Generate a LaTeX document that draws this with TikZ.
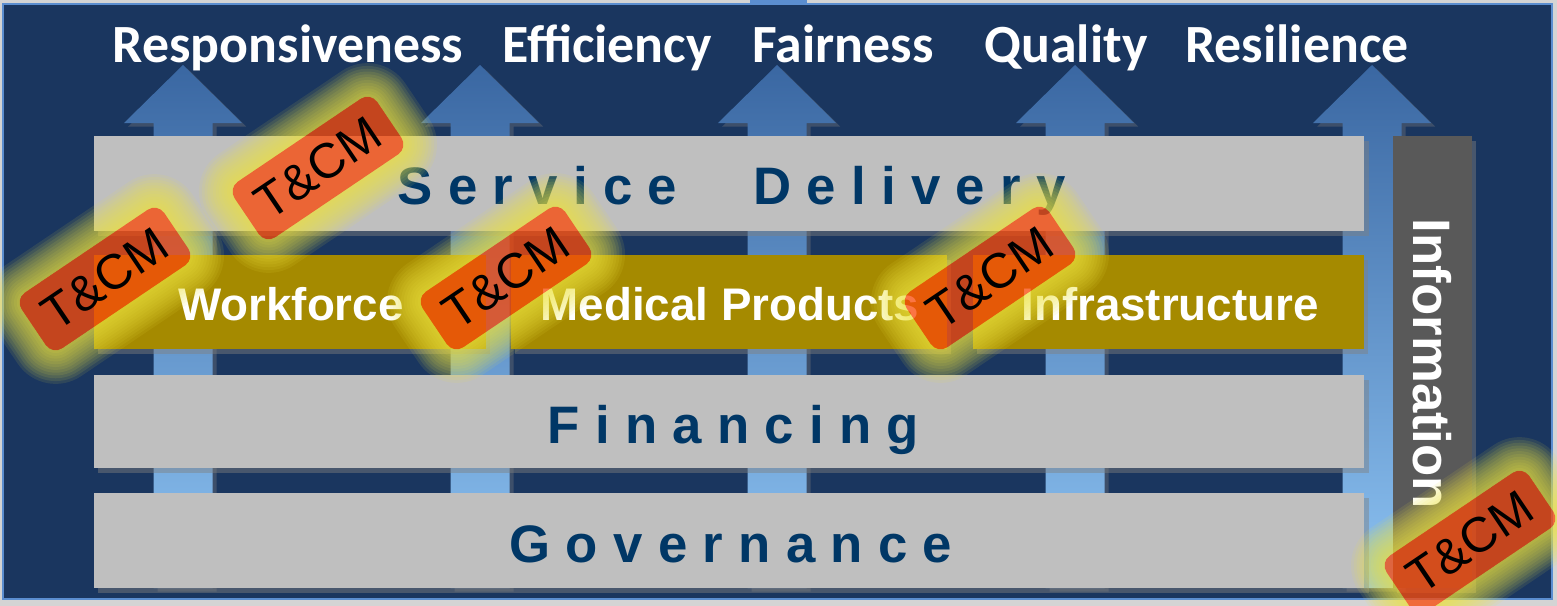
\documentclass[tikz,border=0pt]{standalone}
\usepackage{fontspec}
\setmainfont{Liberation Sans}
\newfontfamily\titlefont{Carlito}
\newfontfamily\spacedfont[LetterSpace=29]{Liberation Sans}
\usetikzlibrary{shadows}
\definecolor{bgblue}{HTML}{1A365F}
\definecolor{frameblue}{HTML}{5B8ED0}
\definecolor{pagegray}{HTML}{D4D4D4}
\definecolor{barg}{HTML}{BFBFBF}
\definecolor{wfolive}{HTML}{A58A00}
\definecolor{textblue}{HTML}{003766}
\definecolor{infog}{HTML}{595959}
\definecolor{arrtop}{HTML}{3A67A2}
\definecolor{arrbot}{HTML}{8CC2F2}
\definecolor{tagor}{HTML}{FA4A0A}
\definecolor{glowy}{HTML}{F0E640}
\tikzset{
  bar/.style={fill=barg, inner sep=0, outer sep=0,
    drop shadow={shadow xshift=1.2pt, shadow yshift=-1.5pt, opacity=0.45}},
  olivebar/.style={bar, fill=wfolive},
  infobar/.style={bar, fill=infog},
  bartext/.style={text=textblue, font=\spacedfont\bfseries\fontsize{15}{18}\selectfont,
    inner sep=0, anchor=base west},
  midtext/.style={text=white, font=\bfseries\fontsize{13}{15}\selectfont,
    inner sep=0, anchor=base},
  titletext/.style={text=white, font=\titlefont\bfseries\fontsize{15.3}{18}\selectfont,
    inner sep=0, anchor=base},
  arrowshape/.style={top color=arrtop, bottom color=arrbot,
    drop shadow={shadow xshift=1.2pt, shadow yshift=-1pt, opacity=0.35}},
  tagbox/.style={fill=tagor, fill opacity=0.76, text opacity=1, text=black,
    rounded corners=0.12cm, minimum width=1.72cm, minimum height=0.67cm,
    inner sep=0, rotate=34, font=\fontsize{14}{16}\selectfont},
}
\newcommand\tcmglow[2]{%
  \begin{scope}[shift={(#1,#2)}, rotate=34]
    \foreach \g in {12,11,...,1}{%
      \pgfmathsetmacro\hw{0.86+0.028*\g}%
      \pgfmathsetmacro\hh{0.335+0.028*\g}%
      \pgfmathsetmacro\rr{0.12+0.028*\g}%
      \fill[glowy, opacity=0.1, even odd rule]
        [rounded corners=\rr cm] (-\hw cm,-\hh cm) rectangle (\hw cm,\hh cm)
        [rounded corners=0.12cm] (-0.86cm,-0.335cm) rectangle (0.86cm,0.335cm);
    }
  \end{scope}}
\begin{document}
\begin{tikzpicture}[x=0.01cm, y=-0.01cm]
\useasboundingbox (0,0) rectangle (1557,606);
% page and frame
\fill[pagegray] (0,0) rectangle (1557,606);
\fill[bgblue, draw=frameblue, line width=0.6pt] (3,4) rectangle (1552,599);
\fill[frameblue] (750,0) rectangle (807,3);
% arrows
\foreach \cx in {183,480,777,1075,1372}{
  \path[arrowshape] (\cx,65) -- ({\cx+59},123) -- ({\cx+29.5},123) -- ({\cx+29.5},588)
    -- ({\cx-29.5},588) -- ({\cx-29.5},123) -- ({\cx-59},123) -- cycle;
}
% titles
\node[titletext] (t1) at (288,62) {Responsiveness};
\node[titletext] (t2) at (607,62) {Efficiency};
\node[titletext] (t3) at (843,62) {Fairness};
\node[titletext] (t4) at (1066,62) {Quality};
\node[titletext] (t5) at (1297,62) {Resilience};
% bars
\node[bar, minimum width=12.70cm, minimum height=0.95cm] (sd) at (729,183.5) {};
\node[olivebar, minimum width=3.92cm, minimum height=0.94cm] (wf) at (290,302) {};
\node[olivebar, minimum width=4.36cm, minimum height=0.94cm] (mp) at (729,302) {};
\node[olivebar, minimum width=3.91cm, minimum height=0.94cm] (inf) at (1168.5,302) {};
\node[bar, minimum width=12.70cm, minimum height=0.93cm] (fin) at (729,421.5) {};
\node[bar, minimum width=12.70cm, minimum height=0.95cm] (gov) at (729,540.5) {};
\node[infobar, minimum width=0.79cm, minimum height=4.52cm] (info) at (1432.5,362) {};
% bar texts
\node[bartext] (sdt) at (397,204) {Service\hspace{0.76cm}Delivery};
\node[bartext] (fint) at (547,443) {Financing};
\node[bartext] (govt) at (509,562) {Governance};
\node[midtext] (wft) at (291,320) {Workforce};
\node[midtext] (mpt) at (730,320) {Medical Products};
\node[midtext] (inft) at (1170,320) {Infrastructure};
\node[text=white, font=\bfseries\fontsize{15}{18}\selectfont, inner sep=0,
  anchor=base, rotate=-90] (infot) at (1413,364) {Information};
% glows
\tcmglow{105}{279}
\tcmglow{318}{168}
\tcmglow{506}{278}
\tcmglow{990}{278}
\tcmglow{1470}{542}
% tags
\node[tagbox] (tag1) at (105,279) {T\&CM};
\node[tagbox] (tag2) at (318,168) {T\&CM};
\node[tagbox] (tag3) at (506,278) {T\&CM};
\node[tagbox] (tag4) at (990,278) {T\&CM};
\node[tagbox] (tag5) at (1470,542) {T\&CM};
\end{tikzpicture}
\end{document}
